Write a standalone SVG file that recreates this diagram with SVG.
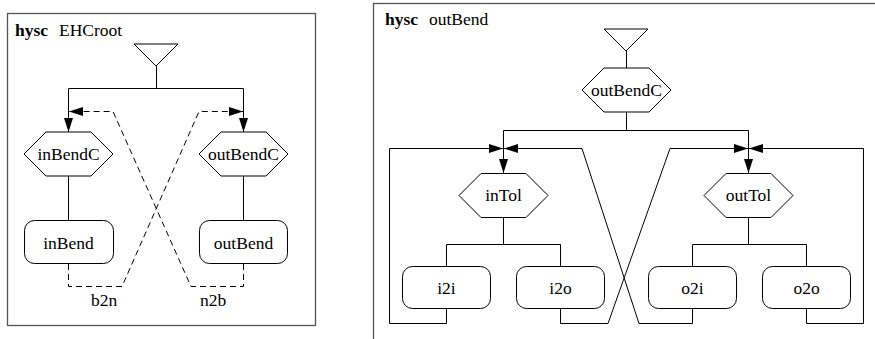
<svg xmlns="http://www.w3.org/2000/svg" width="875" height="339" viewBox="0 0 875 339" font-family="'Liberation Serif', 'Times New Roman', serif">
<style>
text{font-family:'Liberation Serif','Times New Roman',serif;font-size:17.5px;fill:#000}
.t{text-anchor:middle}
.b{font-weight:bold}
.frame{fill:#fff;stroke:#555;stroke-width:1.3}
.n{fill:#fff;stroke:#000;stroke-width:1}
.c{fill:none;stroke:#000;stroke-width:1}
.d{fill:none;stroke:#000;stroke-width:1;stroke-dasharray:6,4}
</style>
<defs>
<marker id="ah" markerUnits="userSpaceOnUse" markerWidth="14" markerHeight="9" refX="14" refY="4.5" orient="auto">
<path d="M0,0 L14,4.5 L0,9 z" fill="#000"/>
</marker>
</defs>
<rect class="frame" x="7.5" y="13.5" width="308" height="312"/>
<rect class="frame" x="373.5" y="3.5" width="520" height="350"/>
<g id="titles">
<text x="15" y="36" class="b">hysc</text><text x="59" y="36">EHCroot</text>
<text x="385" y="25" class="b">hysc</text><text x="429" y="25">outBend</text>
</g>
<g id="connectors">
<path class="c" d="M156.5,66 V88.5 H68.5 V132" marker-end="url(#ah)"/>
<path class="c" d="M156.5,88.5 H243.5 V132" marker-end="url(#ah)"/>
<path class="c" d="M68.5,176 V220"/>
<path class="c" d="M243.5,176 V220"/>
<path class="d" d="M68.5,264 V286.5 H122 L199,111.5 H243" marker-end="url(#ah)"/>
<path class="d" d="M243.5,264 V286.5 H191 L113,111.5 H69" marker-end="url(#ah)"/>
<path class="c" d="M626.5,51 V68"/>
<path class="c" d="M626.5,112 V130.5 H503.5 V173" marker-end="url(#ah)"/>
<path class="c" d="M626.5,130.5 H748.5 V173" marker-end="url(#ah)"/>
<path class="c" d="M503.5,218 V244.5 H446.5 V266"/>
<path class="c" d="M503.5,244.5 H560.5 V266"/>
<path class="c" d="M748.5,218 V244.5 H692.5 V266"/>
<path class="c" d="M748.5,244.5 H806.5 V266"/>
<path class="c" d="M446.5,309 V323.5 H389.5 V148.5 H503" marker-end="url(#ah)"/>
<path class="c" d="M692.5,309 V323.5 H639 L582,148.5 H504" marker-end="url(#ah)"/>
<path class="c" d="M560.5,309 V323.5 H608 L670,148.5 H748" marker-end="url(#ah)"/>
<path class="c" d="M806.5,309 V323.5 H863.5 V148.5 H749" marker-end="url(#ah)"/>
</g>
<g id="labels">
<text class="t" x="104" y="306">b2n</text>
<text class="t" x="213" y="306">n2b</text>
</g>
<g id="init1"><path class="n" d="M134,44 H178 L156,66 z"/></g>
<g id="inBendC"><path class="n" d="M24,154 L46,132 H91 L113,154 L91,176 H46 z"/><text class="t" x="68.5" y="159.5">inBendC</text></g>
<g id="outBendC1"><path class="n" d="M199,154 L221,132 H266 L288,154 L266,176 H221 z"/><text class="t" x="243.5" y="159.5">outBendC</text></g>
<g id="inBend"><rect class="n" x="24.5" y="220.5" width="89" height="43" rx="10"/><text class="t" x="68.5" y="248.5">inBend</text></g>
<g id="outBend"><rect class="n" x="199.5" y="220.5" width="88" height="43" rx="10"/><text class="t" x="243.5" y="248.5">outBend</text></g>
<g id="init2"><path class="n" d="M604,29 H648 L626,51 z"/></g>
<g id="outBendC2"><path class="n" d="M582,90 L604,68 H649 L671,90 L649,112 H604 z"/><text class="t" x="626.5" y="95.5">outBendC</text></g>
<g id="inTol"><path class="n" d="M459,195.5 L481,173.5 H526 L548,195.5 L526,217.5 H481 z"/><text class="t" x="503.5" y="201">inTol</text></g>
<g id="outTol"><path class="n" d="M704,195.5 L726,173.5 H771 L793,195.5 L771,217.5 H726 z"/><text class="t" x="748.5" y="201">outTol</text></g>
<g id="i2i"><rect class="n" x="402.5" y="266.5" width="88" height="42" rx="10"/><text class="t" x="446.5" y="293.5">i2i</text></g>
<g id="i2o"><rect class="n" x="516.5" y="266.5" width="88" height="42" rx="10"/><text class="t" x="560.5" y="293.5">i2o</text></g>
<g id="o2i"><rect class="n" x="648.5" y="266.5" width="88" height="42" rx="10"/><text class="t" x="692.5" y="293.5">o2i</text></g>
<g id="o2o"><rect class="n" x="762.5" y="266.5" width="88" height="42" rx="10"/><text class="t" x="806.5" y="293.5">o2o</text></g>
</svg>
